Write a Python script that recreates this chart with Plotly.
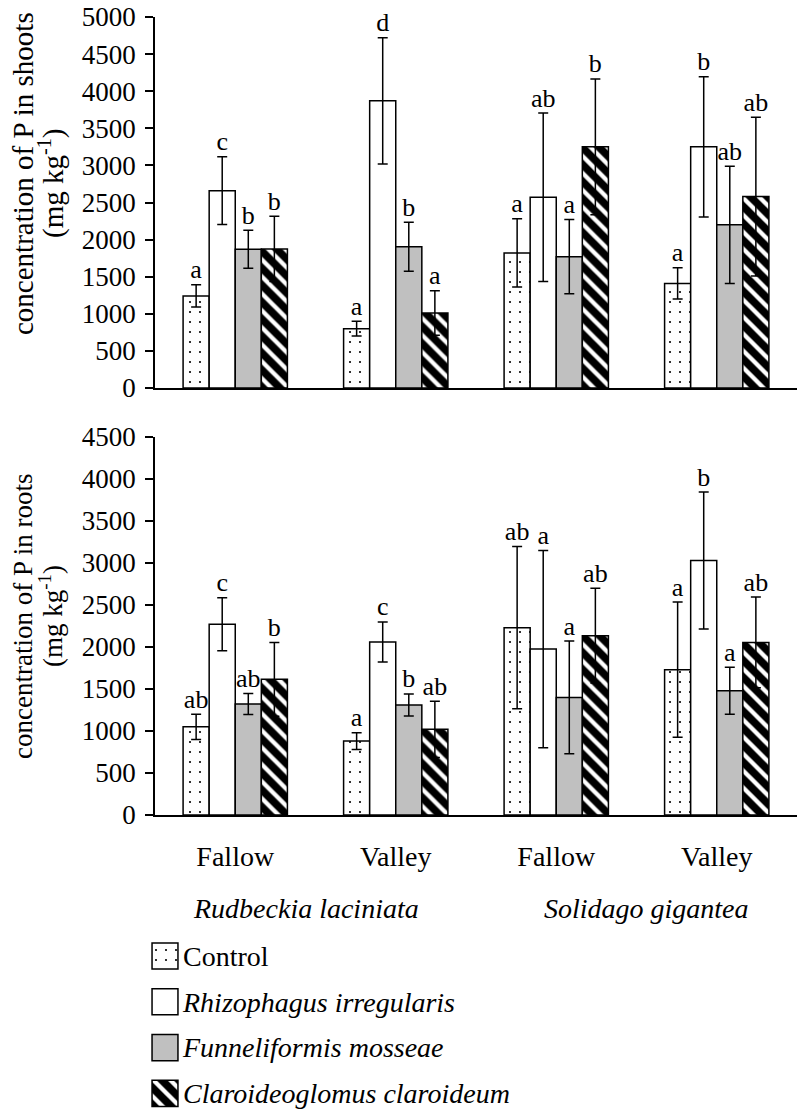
import plotly.graph_objects as go

# ---------------- data ----------------
sites = ["R-Fallow", "R-Valley", "S-Fallow", "S-Valley"]
site_labels = ["Fallow", "Valley", "Fallow", "Valley"]
species = ["Rudbeckia laciniata", "Solidago gigantea"]
treatments = ["Control", "Rhizophagus irregularis", "Funneliformis mosseae", "Claroideoglomus claroideum"]
legend_labels = ["Control", "<i>Rhizophagus irregularis</i>", "<i>Funneliformis mosseae</i>",
                 "<i>Claroideoglomus claroideum</i>"]

# P concentration in shoots (mg kg-1)
shoot_control = [1240, 800, 1820, 1410]
shoot_rhizo = [2660, 3870, 2570, 3250]
shoot_funnel = [1870, 1905, 1770, 2200]
shoot_claro = [1875, 1010, 3250, 2580]
shoot_control_err = [150, 100, 460, 210]
shoot_rhizo_err = [455, 850, 1135, 945]
shoot_funnel_err = [255, 330, 500, 790]
shoot_claro_err = [440, 300, 915, 1070]
shoot_control_letters = ["a", "a", "a", "a"]
shoot_rhizo_letters = ["c", "d", "ab", "b"]
shoot_funnel_letters = ["b", "b", "a", "ab"]
shoot_claro_letters = ["b", "a", "b", "ab"]

# P concentration in roots (mg kg-1)
root_control = [1050, 880, 2230, 1730]
root_rhizo = [2270, 2060, 1975, 3030]
root_funnel = [1320, 1310, 1400, 1480]
root_claro = [1615, 1020, 2135, 2055]
root_control_err = [150, 100, 965, 805]
root_rhizo_err = [315, 238, 1175, 815]
root_funnel_err = [125, 131, 670, 280]
root_claro_err = [440, 335, 565, 540]
root_control_letters = ["ab", "a", "ab", "a"]
root_rhizo_letters = ["c", "c", "a", "b"]
root_funnel_letters = ["ab", "b", "a", "a"]
root_claro_letters = ["b", "ab", "ab", "ab"]

shoots = [
    (shoot_control, shoot_control_err, shoot_control_letters),
    (shoot_rhizo, shoot_rhizo_err, shoot_rhizo_letters),
    (shoot_funnel, shoot_funnel_err, shoot_funnel_letters),
    (shoot_claro, shoot_claro_err, shoot_claro_letters),
]
roots = [
    (root_control, root_control_err, root_control_letters),
    (root_rhizo, root_rhizo_err, root_rhizo_letters),
    (root_funnel, root_funnel_err, root_funnel_letters),
    (root_claro, root_claro_err, root_claro_letters),
]

# ---------------- styles ----------------
FONT = "Liberation Serif, Times New Roman, serif"
W, H = 799, 1109
styles = [
    dict(color="white", pattern=dict(shape=".", size=10, solidity=0.035, fgcolor="black",
                                     bgcolor="white", fgopacity=1)),
    dict(color="white"),
    dict(color="#c0c0c0"),
    dict(color="black", pattern=dict(shape="\\", size=12, solidity=0.36, fgcolor="white",
                                     bgcolor="black", fgopacity=1)),
]
line = dict(color="black", width=1.5)


def px_x(p):
    return p / W


def px_y(p):
    return 1 - p / H


fig = go.Figure()

for axes, data in ((("x", "y"), shoots), (("x2", "y2"), roots)):
    xa, ya = axes
    for i, (vals, errs, letters) in enumerate(data):
        fig.add_trace(go.Bar(
            x=sites, y=vals, name=treatments[i], xaxis=xa, yaxis=ya,
            offsetgroup=f"g{i}",
            marker=dict(**styles[i], line=line),
            error_y=dict(type="data", array=errs, color="black", thickness=1.5, width=5),
            showlegend=False,
        ))
        fig.add_trace(go.Scatter(
            x=sites, y=[v + e for v, e in zip(vals, errs)], xaxis=xa, yaxis=ya,
            mode="text", text=letters, textposition="top center",
            textfont=dict(family=FONT, size=26, color="black"),
            offsetgroup=f"g{i}", showlegend=False, hoverinfo="skip", cliponaxis=False,
        ))

# legend swatches drawn as bars on their own small axis
for i, t in enumerate(treatments):
    fig.add_trace(go.Bar(
        x=[1], y=[t], orientation="h", xaxis="x3", yaxis="y3",
        offsetgroup="leg", width=0.57,
        marker=dict(**styles[i], line=line), showlegend=False, hoverinfo="skip",
    ))

xdom = [px_x(155), px_x(797)]
common_y = dict(showline=True, linecolor="black", linewidth=1.5, ticks="outside", ticklen=8,
                tickwidth=1.5, tickcolor="black", showgrid=False, zeroline=False,
                tickfont=dict(family=FONT, size=27, color="black"), dtick=500,
                ticklabelstandoff=4, automargin=False)
common_x = dict(type="category", categoryorder="array", categoryarray=sites,
                showline=True, linecolor="black", linewidth=1.5, ticks="", showgrid=False,
                zeroline=False, automargin=False)

fig.update_layout(
    width=W, height=H, margin=dict(l=0, r=0, t=0, b=0, pad=0, autoexpand=False),
    paper_bgcolor="white", plot_bgcolor="white",
    font=dict(family=FONT, color="black"),
    barmode="group", bargap=0.35, bargroupgap=0,
    scattermode="group", scattergap=0.35,
    showlegend=False,
    xaxis=dict(**common_x, domain=xdom, anchor="y", showticklabels=False),
    yaxis=dict(**common_y, domain=[px_y(388), px_y(17)], anchor="x", range=[0, 5000]),
    xaxis2=dict(**common_x, domain=xdom, anchor="y2", showticklabels=True,
                tickvals=sites, ticktext=site_labels,
                tickfont=dict(family=FONT, size=28, color="black"), ticklabelstandoff=16),
    yaxis2=dict(**common_y, domain=[px_y(815), px_y(437)], anchor="x2", range=[0, 4500]),
    xaxis3=dict(domain=[px_x(151), px_x(179)], anchor="y3", range=[-0.04, 1.04],
                visible=False, fixedrange=True, automargin=False),
    yaxis3=dict(domain=[0, px_y(925)], anchor="x3", type="category",
                categoryorder="array", categoryarray=treatments,
                range=[3.34, -0.677], side="right", showline=False, ticks="", showgrid=False,
                zeroline=False, tickvals=treatments, ticktext=legend_labels, automargin=False,
                tickfont=dict(family=FONT, size=28, color="black"), ticklabelstandoff=3),
)

ann = [
    dict(text="concentration of P in shoots", x=px_x(23), y=px_y(174), size=29),
    dict(text="(mg kg<sup>-1</sup>)", x=px_x(51), y=px_y(183), size=29),
    dict(text="concentration of P in roots", x=px_x(23), y=px_y(617), size=27),
    dict(text="(mg kg<sup>-1</sup>)", x=px_x(51), y=px_y(616), size=27),
]
for a in ann:
    fig.add_annotation(text=a["text"], x=a["x"], y=a["y"], xref="paper", yref="paper",
                       textangle=-90, showarrow=False, xanchor="center", yanchor="middle",
                       font=dict(family=FONT, size=a["size"], color="black"))

for name, cx in zip(species, [306, 646]):
    fig.add_annotation(text=f"<i>{name}</i>", x=px_x(cx), y=px_y(908), xref="paper", yref="paper",
                       showarrow=False, xanchor="center", yanchor="middle",
                       font=dict(family=FONT, size=28, color="black"))

fig.write_html("out.html", config={"displayModeBar": False},
               post_script="document.body.style.margin='0';document.body.style.overflow='hidden';")
